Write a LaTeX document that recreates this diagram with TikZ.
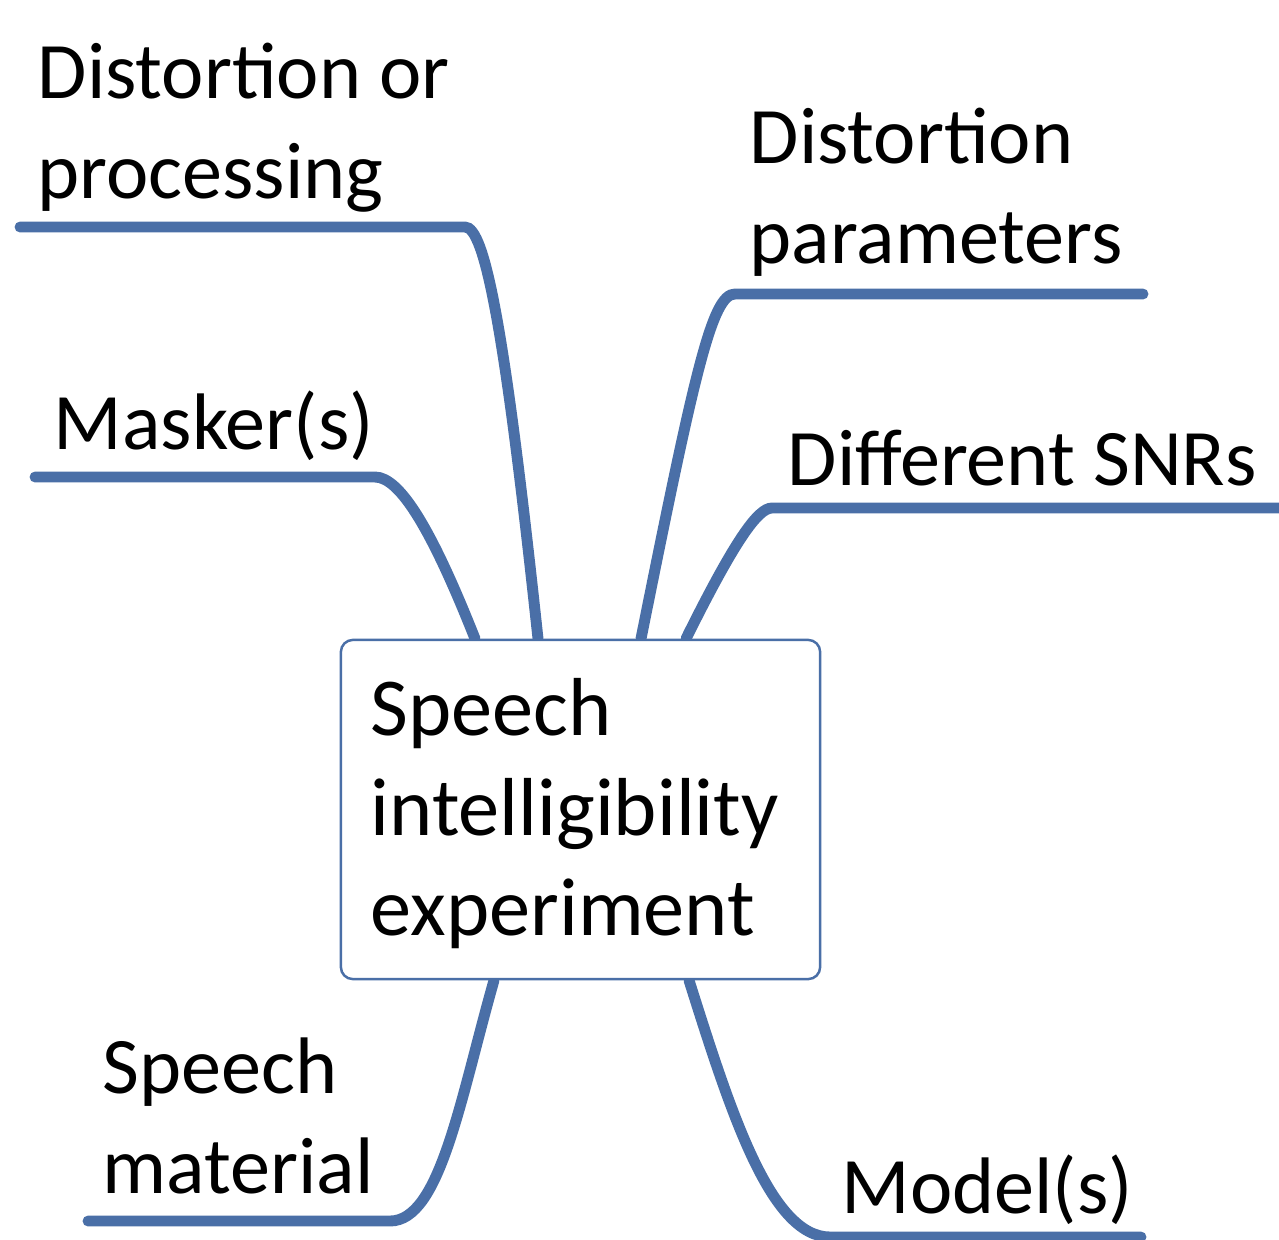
\documentclass[tikz,border=0pt]{standalone}
\usepackage{fontspec}
\setmainfont{Carlito}
\usetikzlibrary{backgrounds}
\definecolor{mapblue}{RGB}{74,111,167}

\begin{document}
\begin{tikzpicture}[x=0.01cm,y=-0.01cm,
    branch/.style={draw=mapblue,line width=3.1pt,line cap=round},
    leaf/.style={anchor=base west,inner sep=0pt,align=left,font=\fontsize{22.8}{28.2}\selectfont}]
  \useasboundingbox (0,0) rectangle (1279,1239);
  \node[draw=mapblue,fill=white,line width=.7pt,rounded corners=.12cm,minimum width=4.79cm,
    minimum height=3.39cm,text width=4.19cm,inner xsep=.3cm,align=left,
    font=\fontsize{23.4}{28.45}\selectfont] (exp) at (580.5,809.5)
    {\rule{0pt}{18.8pt}Speech\\intelligibility\\experiment};
  % labels, anchored at the baseline of their last line
  \node[leaf] (dop) at (37,198) {Distortion or\\processing};
  \node[leaf] (mask) at (53,449) {Masker(s)};
  \node[leaf] (par) at (749,263) {Distortion\\parameters};
  \node[leaf] (snr) at (787,485) {Different SNRs};
  \node[leaf] (mat) at (102,1193) {Speech\\material};
  \node[leaf] (mod) at (841,1213) {Model(s)};
  \coordinate (dop-end) at (20,227); \coordinate (mask-end) at (35,477);
  \coordinate (par-end) at (1143,294); \coordinate (snr-end) at (1290,508);
  \coordinate (mat-end) at (88,1221); \coordinate (mod-end) at (1141,1237);
  \begin{pgfonlayer}{background}
    \draw[branch] (exp.north -| 538,0) .. controls (505,330) and (485,227) .. (465,227) -- (dop-end);
    \draw[branch] (exp.north -| 475,0) .. controls (432,530) and (400,477) .. (375,477) -- (mask-end);
    \draw[branch] (exp.north -| 641,0) .. controls (695,370) and (712,294) .. (735,294) -- (par-end);
    \draw[branch] (exp.north -| 686,0) .. controls (735,540) and (758,508) .. (772,508) -- (snr-end);
    \draw[branch] (exp.south -| 494,0) .. controls (460,1100) and (440,1221) .. (390,1221) -- (mat-end);
    \draw[branch] (exp.south -| 689,0) .. controls (730,1110) and (770,1237) .. (830,1237) -- (mod-end);
  \end{pgfonlayer}
\end{tikzpicture}
\end{document}
